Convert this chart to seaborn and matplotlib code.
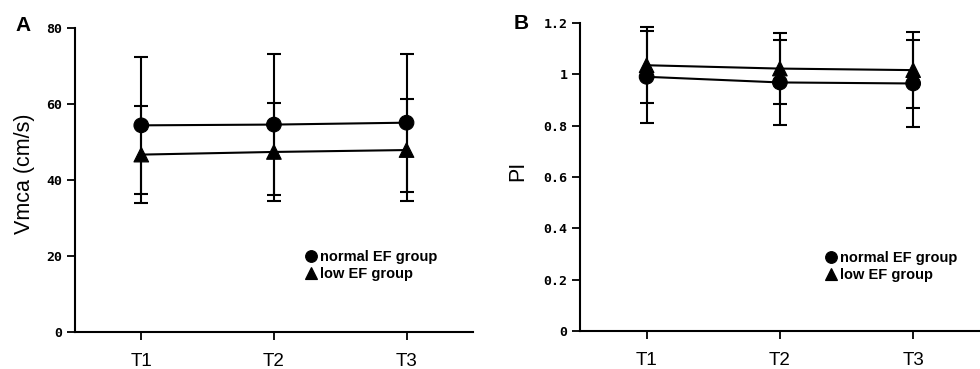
import matplotlib
matplotlib.use("Agg")
import matplotlib.pyplot as plt
import numpy as np
import pandas as pd
import seaborn as sns

# data (mean +/- SD)
times = ["T1", "T2", "T3"]
groups = ["normal EF group", "low EF group"]

vmca_normal = [54.4, 54.6, 55.1]
vmca_normal_sd = [18.0, 18.6, 18.2]
vmca_low = [46.7, 47.4, 47.9]
vmca_low_sd = [12.7, 13.0, 13.5]

pi_normal = [0.990, 0.968, 0.964]
pi_normal_sd = [0.180, 0.166, 0.171]
pi_low = [1.035, 1.022, 1.016]
pi_low_sd = [0.147, 0.137, 0.147]

vmca_ticks = [0, 20, 40, 60, 80]
pi_ticks = [0, 0.2, 0.4, 0.6, 0.8, 1.0, 1.2]
pi_ticklabels = ["0", "0.2", "0.4", "0.6", "0.8", "1", "1.2"]

sns.set_theme(style="ticks")
plt.rcParams["font.family"] = ["Liberation Sans", "DejaVu Sans"]
plt.rcParams.update({"text.color": "black", "axes.labelcolor": "black",
                     "xtick.color": "black", "ytick.color": "black"})

TICK_FONT = ["DejaVu Sans Mono"]


def make_df(normal, normal_sd, low, low_sd):
    rows = []
    for g, m, s in [(groups[0], normal, normal_sd), (groups[1], low, low_sd)]:
        for i, t in enumerate(times):
            rows.append({"x": i + 1, "time": t, "group": g, "mean": m[i], "sd": s[i]})
    return pd.DataFrame(rows)


def draw_panel(ax, df, ylim, yticks, yticklabels, ylabel, label_x, legend_anchor):
    pal = {groups[0]: "black", groups[1]: "black"}
    for g in groups:
        sub = df[df["group"] == g]
        ax.errorbar(sub["x"], sub["mean"], yerr=sub["sd"], fmt="none", ecolor="black",
                    elinewidth=1.5, capsize=5, capthick=1.5, zorder=2)
    sns.lineplot(data=df, x="x", y="mean", hue="group", palette=pal, legend=False,
                 linewidth=1.5, ax=ax, zorder=3)
    sns.scatterplot(data=df, x="x", y="mean", hue="group", style="group", palette=pal,
                    markers={groups[0]: "o", groups[1]: "^"}, s=110, edgecolor="black",
                    ax=ax, zorder=4)
    ax.set_xlim(0.5, 3.5)
    ax.set_ylim(*ylim)
    ax.set_xticks([1, 2, 3])
    ax.set_xticklabels(times, fontsize=13.5)
    ax.set_yticks(yticks)
    ax.set_yticklabels(yticklabels, fontsize=9.5, family=TICK_FONT, fontweight="bold")
    ax.set_xlabel("")
    ax.set_ylabel(ylabel, fontsize=15.5)
    ax.yaxis.set_label_coords(label_x, 0.52)
    ax.tick_params(axis="y", direction="out", length=6, width=1.3, pad=3)
    ax.tick_params(axis="x", direction="out", length=6, width=1.3, pad=9)
    for s in ["top", "right"]:
        ax.spines[s].set_visible(False)
    for s in ["left", "bottom"]:
        ax.spines[s].set_linewidth(1.5)
        ax.spines[s].set_color("black")
    handles, labels = ax.get_legend_handles_labels()
    ax.legend(handles, labels, loc="center left", bbox_to_anchor=legend_anchor, frameon=False,
              handletextpad=0.15, labelspacing=0.2, borderaxespad=0, handlelength=1.0,
              markerscale=0.8, prop={"weight": "bold", "size": 10.5})


fig = plt.figure(figsize=(9.8, 3.69), dpi=100)
ax_a = fig.add_axes([0.0765, 0.100, 0.406, 0.824])
ax_b = fig.add_axes([0.5918, 0.103, 0.408, 0.835])

df_a = make_df(vmca_normal, vmca_normal_sd, vmca_low, vmca_low_sd)
df_b = make_df(pi_normal, pi_normal_sd, pi_low, pi_low_sd)

draw_panel(ax_a, df_a, (0, 80), vmca_ticks, [str(v) for v in vmca_ticks],
           "Vmca (cm/s)", -0.10, (0.56, 0.22))
draw_panel(ax_b, df_b, (0, 1.2), pi_ticks, pi_ticklabels, "PI", -0.13, (0.595, 0.21))

fig.text(0.016, 0.932, "A", fontsize=15, fontweight="bold", va="center")
fig.text(0.524, 0.937, "B", fontsize=15, fontweight="bold", va="center")

fig.savefig("out.png", dpi=100, facecolor="white")
